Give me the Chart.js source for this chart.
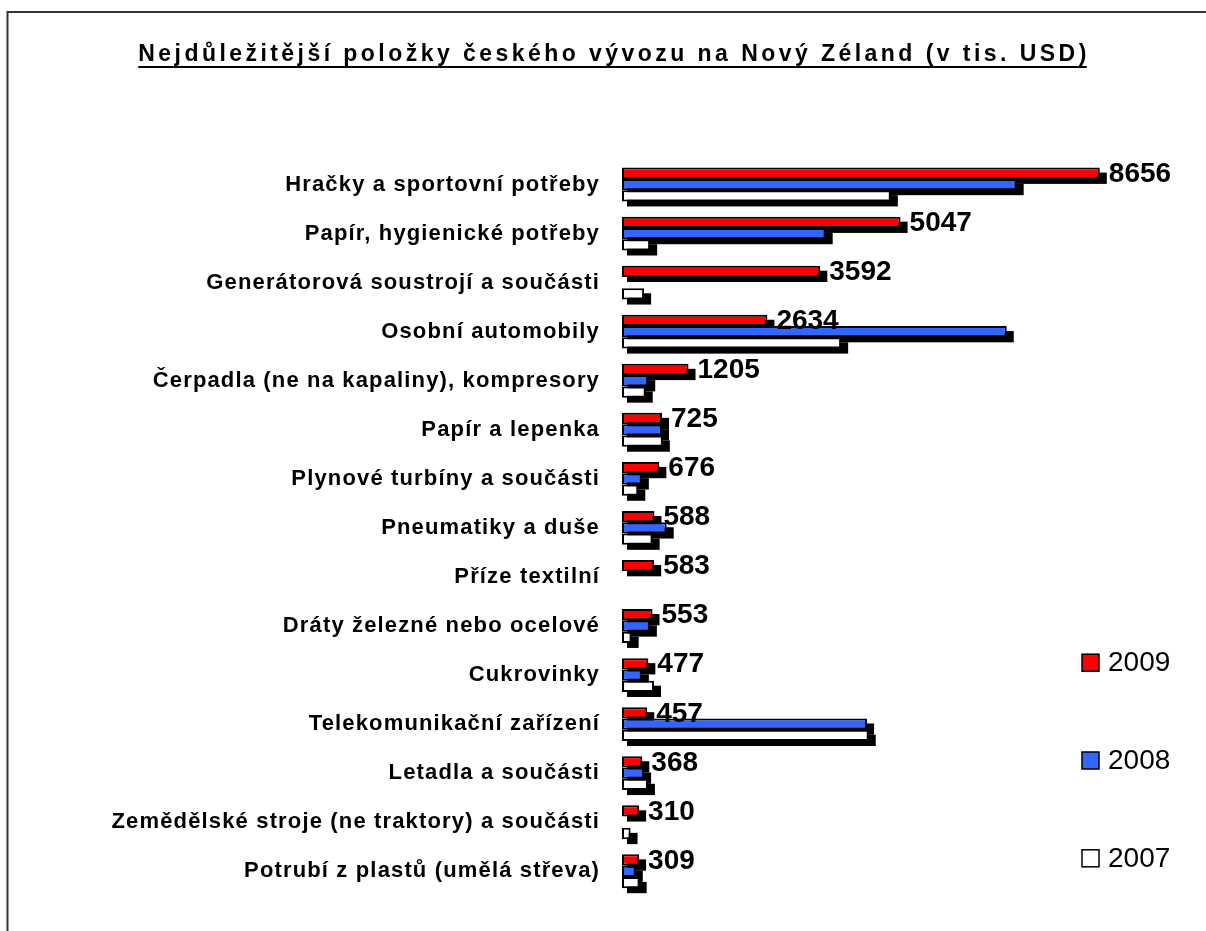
<!DOCTYPE html>
<html>
<head>
<meta charset="utf-8">
<script src="https://cdn.jsdelivr.net/npm/chart.js@4/dist/chart.umd.min.js"></script>
<style>
  html, body { margin: 0; padding: 0; background: #ffffff; }
  canvas { display: block; }
</style>
</head>
<body>
<canvas id="c" width="1206" height="931"></canvas>
<script>
const chartTitle = 'Nejdůležitější položky českého vývozu na Nový Zéland (v tis. USD)';
const categories = [
  'Hračky a sportovní potřeby',
  'Papír, hygienické potřeby',
  'Generátorová soustrojí a součásti',
  'Osobní automobily',
  'Čerpadla (ne na kapaliny), kompresory',
  'Papír a lepenka',
  'Plynové turbíny a součásti',
  'Pneumatiky a duše',
  'Příze textilní',
  'Dráty železné nebo ocelové',
  'Cukrovinky',
  'Telekomunikační zařízení',
  'Letadla a součásti',
  'Zemědělské stroje (ne traktory) a součásti',
  'Potrubí z plastů (umělá střeva)'
];
const seriesNames = ['2009', '2008', '2007'];
const values2009 = [8656, 5047, 3592, 2634, 1205, 725, 676, 588, 583, 553, 477, 457, 368, 310, 309];
const values2008 = [7150, 3690, null, 6970, 475, 725, 360, 810, null, 505, 360, 4440, 400, null, 250];
const values2007 = [4870, 510, 400, 3970, 430, 740, 295, 555, null, 175, 580, 4470, 470, 155, 320];
const seriesColors = ['#ff0000', '#3366ff', '#ffffff'];

const FONT = "'Liberation Sans', Arial, Helvetica, sans-serif";

const decor = {
  id: 'decor',
  beforeDraw(chart) {
    const ctx = chart.ctx;
    ctx.save();
    ctx.fillStyle = '#ffffff';
    ctx.fillRect(0, 0, chart.width, chart.height);
    ctx.strokeStyle = '#333333';
    ctx.lineWidth = 2;
    ctx.beginPath();
    ctx.moveTo(7.5, chart.height + 2);
    ctx.lineTo(7.5, 12);
    ctx.lineTo(chart.width + 2, 12);
    ctx.stroke();
    ctx.restore();
    ctx.letterSpacing = '1.15px';
  },
  beforeDatasetsDraw(chart) {
    const ctx = chart.ctx;
    ctx.letterSpacing = '0px';
    ctx.save();
    ctx.fillStyle = '#000000';
    chart.data.datasets.forEach((ds, i) => {
      const meta = chart.getDatasetMeta(i);
      meta.data.forEach((el, j) => {
        if (ds.data[j] == null) return;
        const p = el.getProps(['x', 'y', 'base', 'height'], true);
        const left = Math.min(p.base, p.x) + 5;
        const right = Math.max(p.base, p.x) + 7;
        const top = p.y - p.height / 2 + 5;
        ctx.fillRect(left, top, right - left, p.height);
      });
    });
    ctx.restore();
  },
  afterDatasetsDraw(chart) {
    const ctx = chart.ctx;
    ctx.save();
    ctx.letterSpacing = '0px';
    ctx.fillStyle = '#000000';
    ctx.font = 'bold 28px ' + FONT;
    ctx.textAlign = 'left';
    ctx.textBaseline = 'middle';
    const meta = chart.getDatasetMeta(0);
    meta.data.forEach((el, j) => {
      const v = chart.data.datasets[0].data[j];
      if (v == null) return;
      const p = el.getProps(['x', 'y'], true);
      ctx.fillText(String(v), p.x + 9, p.y + 1);
    });
    ctx.restore();
  },
  afterDraw(chart) {
    const ctx = chart.ctx;
    ctx.save();
    // title
    ctx.letterSpacing = '3.45px';
    ctx.font = 'bold 23px ' + FONT;
    ctx.fillStyle = '#000000';
    ctx.textAlign = 'left';
    ctx.textBaseline = 'alphabetic';
    const w = ctx.measureText(chartTitle).width;
    const tx = 614 - w / 2;
    ctx.fillText(chartTitle, tx, 61);
    ctx.fillRect(tx, 66, w - 3, 2);
    // legend
    ctx.letterSpacing = '0px';
    ctx.font = '28px ' + FONT;
    ctx.textBaseline = 'middle';
    chart.data.datasets.forEach((ds, i) => {
      const cy = 662.7 + i * 97.8;
      ctx.fillStyle = ds.backgroundColor;
      ctx.fillRect(1082, cy - 8.5, 17, 17);
      ctx.strokeStyle = '#000000';
      ctx.lineWidth = 1.5;
      ctx.strokeRect(1082, cy - 8.5, 17, 17);
      ctx.fillStyle = '#000000';
      ctx.fillText(ds.label, 1108, cy + 1);
    });
    ctx.restore();
  }
};

const datasets = [values2009, values2008, values2007].map((vals, i) => ({
  label: seriesNames[i],
  data: vals,
  backgroundColor: seriesColors[i],
  borderColor: '#000000',
  borderWidth: 2,
  borderSkipped: false
}));

new Chart(document.getElementById('c'), {
  type: 'bar',
  data: { labels: categories, datasets },
  options: {
    indexAxis: 'y',
    responsive: false,
    animation: false,
    devicePixelRatio: 1,
    categoryPercentage: 0.69,
    barPercentage: 1,
    layout: { padding: { left: 0, right: 32, top: 160, bottom: 12 } },
    plugins: {
      legend: { display: false },
      title: { display: false },
      tooltip: { enabled: false }
    },
    scales: {
      x: { type: 'linear', min: 0, max: 10000, display: false },
      y: {
        type: 'category',
        grid: { display: false, drawTicks: false },
        border: { display: false },
        ticks: {
          color: '#000000',
          padding: 22,
          font: { family: FONT, size: 22, weight: 'bold' }
        },
        afterFit(scale) { scale.width = 622; }
      }
    }
  },
  plugins: [decor]
});
</script>
</body>
</html>
